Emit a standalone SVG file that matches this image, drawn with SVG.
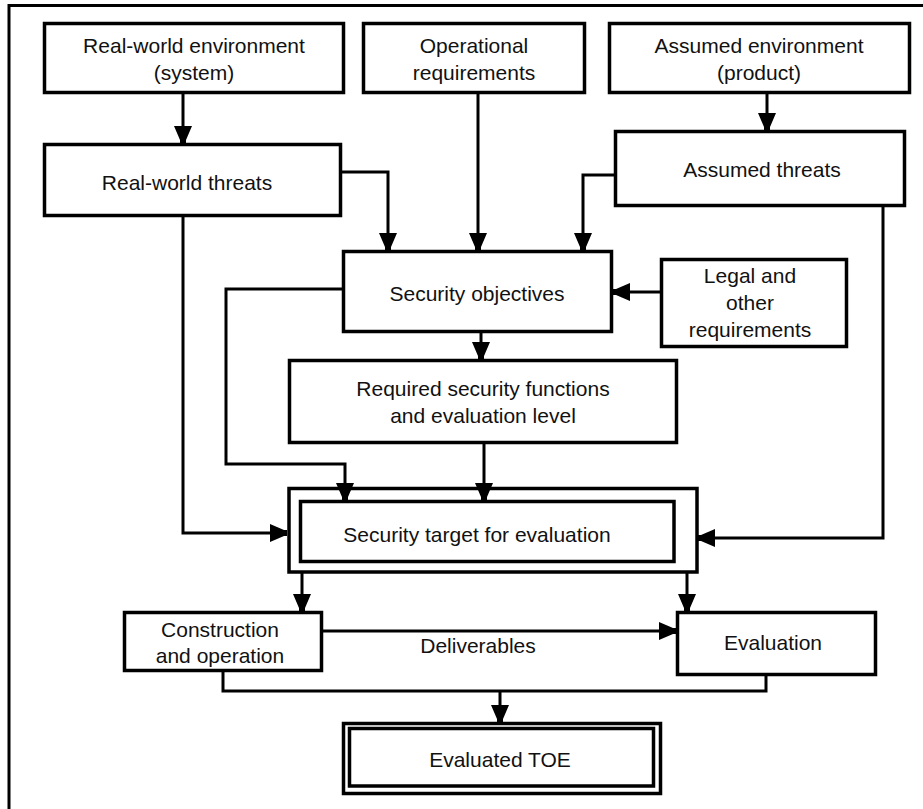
<svg xmlns="http://www.w3.org/2000/svg" width="923" height="809" viewBox="0 0 923 809">
<style>
.box{fill:#fff;stroke:#000;stroke-width:3.5}
.ln{fill:none;stroke:#000;stroke-width:3}
.fr{fill:none;stroke:#000;stroke-width:3}
text{font-family:"Liberation Sans",Arial,sans-serif;font-size:21px;fill:#111;text-anchor:middle}
</style>
<defs>
<marker id="ah" viewBox="-18 -10 20 20" refX="0" refY="0" markerWidth="20" markerHeight="20" markerUnits="userSpaceOnUse" orient="auto">
<path d="M-17,-9 L-3,-3 L0,-3 L0,3 L-3,3 L-17,9 Z" fill="#000"/>
</marker>
</defs>
<rect width="923" height="809" fill="#fff"/>
<path class="fr" d="M9,809 V5.5 H923"/>
<g id="real-world-environment">
<rect class="box" x="44.5" y="23.5" width="299" height="69"/>
<text x="194" y="53">Real-world environment</text>
<text x="194" y="80">(system)</text>
</g>
<g id="operational-requirements">
<rect class="box" x="363.5" y="23.5" width="221" height="69"/>
<text x="474" y="53">Operational</text>
<text x="474" y="80">requirements</text>
</g>
<g id="assumed-environment">
<rect class="box" x="609.5" y="23.5" width="300" height="69"/>
<text x="759" y="53">Assumed environment</text>
<text x="759" y="80">(product)</text>
</g>
<g id="real-world-threats">
<rect class="box" x="44.5" y="144.5" width="296" height="71"/>
<text x="187" y="190">Real-world threats</text>
</g>
<g id="assumed-threats">
<rect class="box" x="615.5" y="131.5" width="289" height="74"/>
<text x="762" y="177">Assumed threats</text>
</g>
<g id="security-objectives">
<rect class="box" x="343.5" y="251.5" width="268" height="80"/>
<text x="477" y="301">Security objectives</text>
</g>
<g id="legal-requirements">
<rect class="box" x="661.5" y="259.5" width="185" height="87"/>
<text x="750" y="283">Legal and</text>
<text x="750" y="310">other</text>
<text x="750" y="337">requirements</text>
</g>
<g id="required-functions">
<rect class="box" x="289.5" y="360.5" width="387" height="82"/>
<text x="483" y="396">Required security functions</text>
<text x="483" y="423">and evaluation level</text>
</g>
<g id="security-target">
<rect class="box" x="289" y="488.5" width="408" height="83.5"/>
<rect class="box" x="300.5" y="501.5" width="373.5" height="60"/>
<text x="477" y="542">Security target for evaluation</text>
</g>
<g id="construction">
<rect class="box" x="124.5" y="612.5" width="197" height="58"/>
<text x="220" y="637">Construction</text>
<text x="220" y="663">and operation</text>
</g>
<g id="evaluation">
<rect class="box" x="677.5" y="612.5" width="198" height="62"/>
<text x="773" y="650">Evaluation</text>
</g>
<g id="evaluated-toe">
<rect class="box" x="343.5" y="723.5" width="317" height="70"/>
<rect class="box" x="349.5" y="728.5" width="304" height="57.5"/>
<text x="500" y="767">Evaluated TOE</text>
</g>
<g id="connectors">
<path class="ln" d="M183,92.5 V143" marker-end="url(#ah)"/>
<path class="ln" d="M478,92.5 V250" marker-end="url(#ah)"/>
<path class="ln" d="M767,92.5 V130" marker-end="url(#ah)"/>
<path class="ln" d="M340.5,172 H388 V250" marker-end="url(#ah)"/>
<path class="ln" d="M615.5,175 H583 V250" marker-end="url(#ah)"/>
<path class="ln" d="M661.5,292 H613" marker-end="url(#ah)"/>
<path class="ln" d="M481,331.5 V359" marker-end="url(#ah)"/>
<path class="ln" d="M343.5,289 H226 V464 H345 V500" marker-end="url(#ah)"/>
<path class="ln" d="M183,215.5 V533 H287" marker-end="url(#ah)"/>
<path class="ln" d="M484,442.5 V500" marker-end="url(#ah)"/>
<path class="ln" d="M883,205.5 V538 H698" marker-end="url(#ah)"/>
<path class="ln" d="M302,572 V611" marker-end="url(#ah)"/>
<path class="ln" d="M687,572 V611" marker-end="url(#ah)"/>
<path class="ln" d="M321.5,631 H676" marker-end="url(#ah)"/>
<path class="ln" d="M223,670.5 V691 H766 V674.5"/>
<path class="ln" d="M500,691 V722" marker-end="url(#ah)"/>
<text x="478" y="653">Deliverables</text>
</g>
</svg>
